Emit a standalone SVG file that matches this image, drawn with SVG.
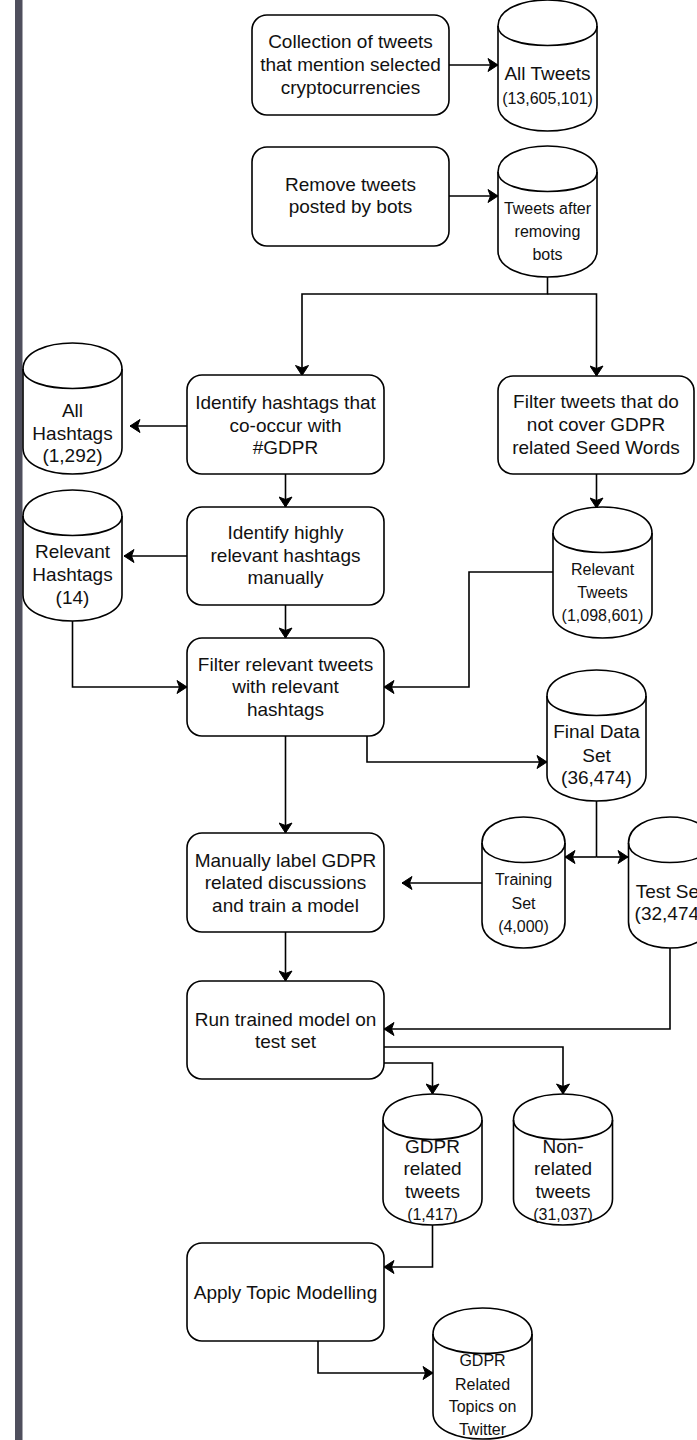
<svg xmlns="http://www.w3.org/2000/svg" xmlns:xlink="http://www.w3.org/1999/xlink" width="697" height="1440" viewBox="0 0 697 1440">
<style>
.box{fill:#fff;stroke:#000;stroke-width:1.6}
.cyl{fill:#fff;stroke:#000;stroke-width:1.6}
.edge{fill:none;stroke:#000;stroke-width:1.6}
text{font-family:"Liberation Sans",Arial,Helvetica,sans-serif;fill:#111;text-anchor:middle}
.t19{font-size:19px}
.t16{font-size:16px}
</style>
<defs>
<marker id="arr" markerUnits="userSpaceOnUse" markerWidth="12" markerHeight="14" viewBox="0 0 12 14" refX="11" refY="7" orient="auto">
<path d="M1,0.5 L11,7 L1,13.5 L3.5,7 Z" fill="#000" stroke="#000" stroke-width="1"/>
</marker>
<g id="cylL">
<path d="M0,26 C0,-8.67 99,-8.67 99,26 L99,105 C99,139.67 0,139.67 0,105 Z"/>
<path d="M0,26 C0,52 99,52 99,26" fill="none"/>
</g>
<g id="cylS">
<path d="M0,26 C0,-8.67 83,-8.67 83,26 L83,105 C83,139.67 0,139.67 0,105 Z"/>
<path d="M0,26 C0,52 83,52 83,26" fill="none"/>
</g>
</defs>
<rect x="0" y="0" width="697" height="1440" fill="#fff"/>
<rect x="15" y="0" width="7.5" height="1440" fill="#4f4f5d"/>

<g id="connectors">
<path class="edge" d="M449,65 L498,65" marker-end="url(#arr)"/>
<path class="edge" d="M449,196 L498,196" marker-end="url(#arr)"/>
<path class="edge" d="M547.5,277 L547.5,294 L302,294 L302,375.5" marker-end="url(#arr)"/>
<path class="edge" d="M547.5,294 L596.5,294 L596.5,376" marker-end="url(#arr)"/>
<path class="edge" d="M187,426 L130,426" marker-end="url(#arr)"/>
<path class="edge" d="M187,556 L124,556" marker-end="url(#arr)"/>
<path class="edge" d="M285.5,474 L285.5,507" marker-end="url(#arr)"/>
<path class="edge" d="M596.5,474 L596.5,508" marker-end="url(#arr)"/>
<path class="edge" d="M285.5,605 L285.5,638" marker-end="url(#arr)"/>
<path class="edge" d="M72.5,621 L72.5,687 L187,687" marker-end="url(#arr)"/>
<path class="edge" d="M553,572 L469,572 L469,687 L384,687" marker-end="url(#arr)"/>
<path class="edge" d="M367,736 L367,762 L547,762" marker-end="url(#arr)"/>
<path class="edge" d="M285.5,736 L285.5,833" marker-end="url(#arr)"/>
<path class="edge" d="M596.5,801 L596.5,857"/>
<path class="edge" d="M596.5,857 L565,857" marker-end="url(#arr)"/>
<path class="edge" d="M596.5,857 L628,857" marker-end="url(#arr)"/>
<path class="edge" d="M482,883 L402,883" marker-end="url(#arr)"/>
<path class="edge" d="M285.5,932 L285.5,981" marker-end="url(#arr)"/>
<path class="edge" d="M670,948 L670,1029 L384,1029" marker-end="url(#arr)"/>
<path class="edge" d="M384,1047 L563,1047 L563,1094" marker-end="url(#arr)"/>
<path class="edge" d="M384,1063 L432.5,1063 L432.5,1094" marker-end="url(#arr)"/>
<path class="edge" d="M432.5,1225 L432.5,1267 L384,1267" marker-end="url(#arr)"/>
<path class="edge" d="M318,1341 L318,1373 L433,1373" marker-end="url(#arr)"/>
</g>

<g id="collect">
<rect class="box" x="252" y="15" width="197" height="100" rx="15"/>
<text class="t19" x="350.5" y="48">Collection of tweets</text>
<text class="t19" x="350.5" y="71">that mention selected</text>
<text class="t19" x="350.5" y="94">cryptocurrencies</text>
</g>
<g id="allTweets">
<use xlink:href="#cylL" class="cyl" x="498" y="0"/>
<text class="t19" x="547.5" y="80">All Tweets</text>
<text class="t16" x="547.5" y="104">(13,605,101)</text>
</g>
<g id="removeBots">
<rect class="box" x="252" y="147" width="197" height="99" rx="15"/>
<text class="t19" x="350.5" y="191">Remove tweets</text>
<text class="t19" x="350.5" y="213">posted by bots</text>
</g>
<g id="tweetsAfter">
<use xlink:href="#cylL" class="cyl" x="498" y="146"/>
<text class="t16" x="547.5" y="214">Tweets after</text>
<text class="t16" x="547.5" y="237">removing</text>
<text class="t16" x="547.5" y="260">bots</text>
</g>
<g id="identifyHashtags">
<rect class="box" x="187" y="375" width="197" height="99" rx="15"/>
<text class="t19" x="285.5" y="409">Identify hashtags that</text>
<text class="t19" x="285.5" y="432">co-occur with</text>
<text class="t19" x="285.5" y="454">#GDPR</text>
</g>
<g id="filterSeed">
<rect class="box" x="498" y="376" width="196" height="98" rx="15"/>
<text class="t19" x="596" y="408">Filter tweets that do</text>
<text class="t19" x="596" y="431">not cover GDPR</text>
<text class="t19" x="596" y="454">related Seed Words</text>
</g>
<g id="allHashtags">
<use xlink:href="#cylL" class="cyl" x="23" y="343"/>
<text class="t19" x="72.5" y="417">All</text>
<text class="t19" x="72.5" y="440">Hashtags</text>
<text class="t19" x="72.5" y="462">(1,292)</text>
</g>
<g id="identifyHighly">
<rect class="box" x="187" y="507" width="197" height="98" rx="15"/>
<text class="t19" x="285.5" y="539">Identify highly</text>
<text class="t19" x="285.5" y="562">relevant hashtags</text>
<text class="t19" x="285.5" y="584">manually</text>
</g>
<g id="relevantHashtags">
<use xlink:href="#cylL" class="cyl" x="23" y="490"/>
<text class="t19" x="72.5" y="558">Relevant</text>
<text class="t19" x="72.5" y="581">Hashtags</text>
<text class="t19" x="72.5" y="604">(14)</text>
</g>
<g id="relevantTweets">
<use xlink:href="#cylL" class="cyl" x="553" y="507"/>
<text class="t16" x="602.5" y="575">Relevant</text>
<text class="t16" x="602.5" y="598">Tweets</text>
<text class="t16" x="602.5" y="621">(1,098,601)</text>
</g>
<g id="filterRelevant">
<rect class="box" x="187" y="638" width="197" height="98" rx="15"/>
<text class="t19" x="285.5" y="671">Filter relevant tweets</text>
<text class="t19" x="285.5" y="693">with relevant</text>
<text class="t19" x="285.5" y="716">hashtags</text>
</g>
<g id="finalDataSet">
<use xlink:href="#cylL" class="cyl" x="547" y="670"/>
<text class="t19" x="596.5" y="738">Final Data</text>
<text class="t19" x="596.5" y="762">Set</text>
<text class="t19" x="596.5" y="784">(36,474)</text>
</g>
<g id="manualLabel">
<rect class="box" x="187" y="833" width="197" height="99" rx="15"/>
<text class="t19" x="285.5" y="867">Manually label GDPR</text>
<text class="t19" x="285.5" y="889">related discussions</text>
<text class="t19" x="285.5" y="912">and train a model</text>
</g>
<g id="trainingSet">
<use xlink:href="#cylS" class="cyl" x="482" y="817"/>
<text class="t16" x="523.5" y="885">Training</text>
<text class="t16" x="523.5" y="909">Set</text>
<text class="t16" x="523.5" y="932">(4,000)</text>
</g>
<g id="testSet">
<use xlink:href="#cylS" class="cyl" x="628.5" y="817"/>
<text class="t19" x="670" y="898">Test Set</text>
<text class="t19" x="670" y="920">(32,474)</text>
</g>
<g id="runModel">
<rect class="box" x="187" y="981" width="197" height="98" rx="15"/>
<text class="t19" x="285.5" y="1026">Run trained model on</text>
<text class="t19" x="285.5" y="1048">test set</text>
</g>
<g id="gdprTweets">
<use xlink:href="#cylL" class="cyl" x="383" y="1094"/>
<text class="t19" x="432.5" y="1153">GDPR</text>
<text class="t19" x="432.5" y="1175">related</text>
<text class="t19" x="432.5" y="1198">tweets</text>
<text class="t16" x="432.5" y="1220">(1,417)</text>
</g>
<g id="nonRelated">
<use xlink:href="#cylL" class="cyl" x="513.5" y="1094"/>
<text class="t19" x="563" y="1153">Non-</text>
<text class="t19" x="563" y="1175">related</text>
<text class="t19" x="563" y="1198">tweets</text>
<text class="t16" x="563" y="1220">(31,037)</text>
</g>
<g id="topicModelling">
<rect class="box" x="187" y="1243" width="197" height="98" rx="15"/>
<text class="t19" x="285.5" y="1299">Apply Topic Modelling</text>
</g>
<g id="gdprTopics">
<use xlink:href="#cylL" class="cyl" x="433" y="1308"/>
<text class="t16" x="482.5" y="1366">GDPR</text>
<text class="t16" x="482.5" y="1390">Related</text>
<text class="t16" x="482.5" y="1412">Topics on</text>
<text class="t16" x="482.5" y="1435">Twitter</text>
</g>
</svg>
